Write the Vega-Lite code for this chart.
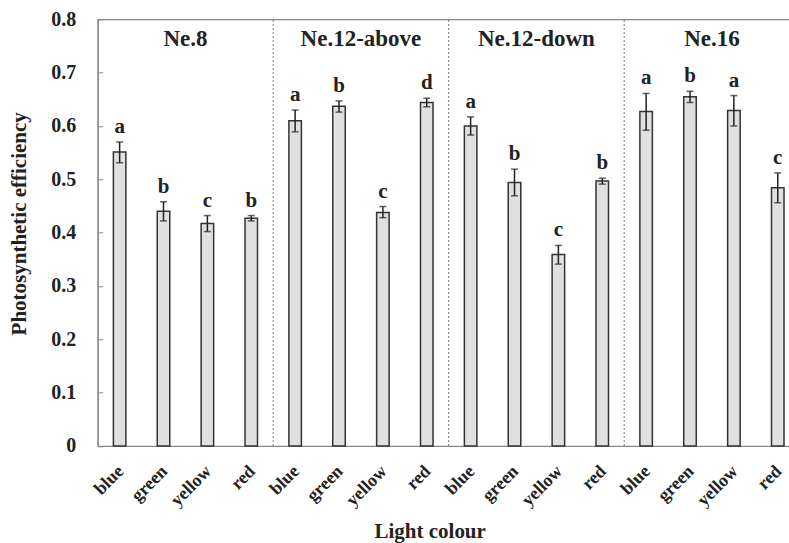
{
  "$schema": "https://vega.github.io/schema/vega-lite/v6.json",
  "autosize": {"type": "none"},
  "padding": {"left": 97.7, "top": 19.3, "right": 0, "bottom": 97},
  "width": 692,
  "height": 426.7,
  "background": "white",
  "config": {
    "view": {"stroke": "#888888", "strokeWidth": 1.2},
    "font": "Liberation Serif",
    "axis": {"labelFont": "Liberation Serif", "titleFont": "Liberation Serif", "labelFontWeight": "bold", "titleFontWeight": "bold", "labelColor": "#222222", "titleColor": "#222222", "domainColor": "#888888", "tickColor": "#888888", "grid": false, "labelFontSize": 20, "titleFontSize": 21, "domainWidth": 1.2},
    "axisX": {"labelAngle": -45, "labelAlign": "right", "labelBaseline": "top", "labelOffset": -5, "labelPadding": 16, "labelFontSize": 18, "ticks": false, "tickSize": 0, "titleX": 332, "titleY": 92, "titleBaseline": "alphabetic"},
    "axisY": {"tickSize": -5, "labelPadding": 27, "titleX": -77.7, "titleY": 204, "titleBaseline": "middle"}
  },
  "datasets": {
    "bars": [
      {"id": "Ne.8|blue", "mean": 0.551, "lo": 0.531, "hi": 0.570, "letter": "a"},
      {"id": "Ne.8|green", "mean": 0.440, "lo": 0.422, "hi": 0.458, "letter": "b"},
      {"id": "Ne.8|yellow", "mean": 0.417, "lo": 0.402, "hi": 0.432, "letter": "c"},
      {"id": "Ne.8|red", "mean": 0.427, "lo": 0.422, "hi": 0.432, "letter": "b"},
      {"id": "Ne.12-above|blue", "mean": 0.610, "lo": 0.589, "hi": 0.630, "letter": "a"},
      {"id": "Ne.12-above|green", "mean": 0.637, "lo": 0.626, "hi": 0.647, "letter": "b"},
      {"id": "Ne.12-above|yellow", "mean": 0.438, "lo": 0.428, "hi": 0.449, "letter": "c"},
      {"id": "Ne.12-above|red", "mean": 0.644, "lo": 0.636, "hi": 0.652, "letter": "d"},
      {"id": "Ne.12-down|blue", "mean": 0.600, "lo": 0.583, "hi": 0.617, "letter": "a"},
      {"id": "Ne.12-down|green", "mean": 0.494, "lo": 0.469, "hi": 0.519, "letter": "b"},
      {"id": "Ne.12-down|yellow", "mean": 0.359, "lo": 0.341, "hi": 0.376, "letter": "c"},
      {"id": "Ne.12-down|red", "mean": 0.497, "lo": 0.491, "hi": 0.502, "letter": "b"},
      {"id": "Ne.16|blue", "mean": 0.627, "lo": 0.592, "hi": 0.661, "letter": "a"},
      {"id": "Ne.16|green", "mean": 0.655, "lo": 0.644, "hi": 0.665, "letter": "b"},
      {"id": "Ne.16|yellow", "mean": 0.629, "lo": 0.600, "hi": 0.657, "letter": "a"},
      {"id": "Ne.16|red", "mean": 0.484, "lo": 0.456, "hi": 0.512, "letter": "c"}
    ],
    "dividers": [
      {"id": "Ne.8|red"},
      {"id": "Ne.12-above|red"},
      {"id": "Ne.12-down|red"}
    ],
    "groups": [
      {"id": "Ne.8|green", "name": "Ne.8"},
      {"id": "Ne.12-above|green", "name": "Ne.12-above"},
      {"id": "Ne.12-down|green", "name": "Ne.12-down"},
      {"id": "Ne.16|green", "name": "Ne.16"}
    ]
  },
  "encoding": {
    "x": {"field": "id", "type": "nominal",
      "scale": {"domain": ["Ne.8|blue", "Ne.8|green", "Ne.8|yellow", "Ne.8|red", "Ne.12-above|blue", "Ne.12-above|green", "Ne.12-above|yellow", "Ne.12-above|red", "Ne.12-down|blue", "Ne.12-down|green", "Ne.12-down|yellow", "Ne.12-down|red", "Ne.16|blue", "Ne.16|green", "Ne.16|yellow", "Ne.16|red"], "paddingInner": 0, "paddingOuter": 0, "range": [0, 702]},
      "axis": {"title": "Light colour", "labelExpr": "split(datum.label, '|')[1]"}}
  },
  "layer": [
    {
      "data": {"name": "bars"},
      "mark": {"type": "bar", "width": 12.5, "fill": "#e0e0e0", "stroke": "#333333", "strokeWidth": 1.5},
      "encoding": {
        "y": {"field": "mean", "type": "quantitative",
          "scale": {"domain": [0, 0.8], "nice": false},
          "axis": {"title": "Photosynthetic  efficiency", "values": [0, 0.1, 0.2, 0.3, 0.4, 0.5, 0.6, 0.7, 0.8], "labelExpr": "datum.value == 0 ? '0' : format(datum.value, '.1f')"}}
      }
    },
    {
      "data": {"name": "bars"},
      "mark": {"type": "rule", "color": "#222222", "strokeWidth": 1.5},
      "encoding": {
        "y": {"field": "lo", "type": "quantitative"},
        "y2": {"field": "hi"}
      }
    },
    {
      "data": {"name": "bars"},
      "mark": {"type": "tick", "color": "#222222", "thickness": 1.5, "size": 7},
      "encoding": {
        "y": {"field": "hi", "type": "quantitative"}
      }
    },
    {
      "data": {"name": "bars"},
      "mark": {"type": "tick", "color": "#222222", "thickness": 1.5, "size": 7},
      "encoding": {
        "y": {"field": "lo", "type": "quantitative"}
      }
    },
    {
      "data": {"name": "bars"},
      "mark": {"type": "text", "font": "Liberation Serif", "fontWeight": "bold", "fontSize": 21, "color": "#222222", "baseline": "alphabetic", "dy": -9},
      "encoding": {
        "y": {"field": "hi", "type": "quantitative"},
        "text": {"field": "letter"}
      }
    },
    {
      "data": {"name": "dividers"},
      "mark": {"type": "rule", "color": "#777777", "strokeWidth": 1, "strokeDash": [2, 2]},
      "encoding": {
        "x": {"field": "id", "type": "nominal", "bandPosition": 1},
        "y": {"datum": 0},
        "y2": {"datum": 0.8}
      }
    },
    {
      "data": {"name": "groups"},
      "mark": {"type": "text", "font": "Liberation Serif", "fontWeight": "bold", "fontSize": 23, "color": "#222222", "baseline": "middle"},
      "encoding": {
        "x": {"field": "id", "type": "nominal", "bandPosition": 1},
        "y": {"datum": 0.763},
        "text": {"field": "name"}
      }
    }
  ]
}
